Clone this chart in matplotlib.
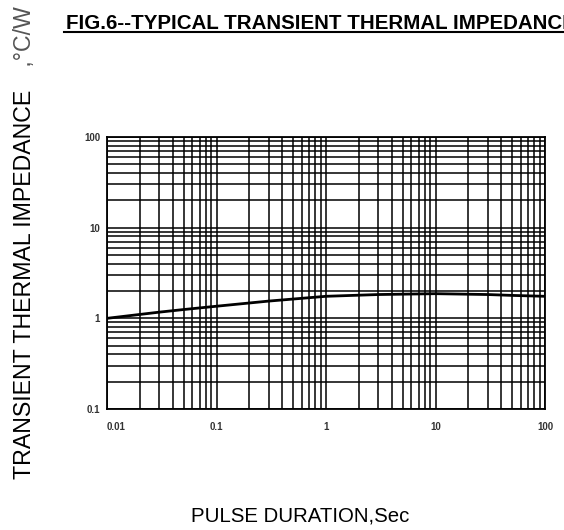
import matplotlib
matplotlib.use('Agg')
import matplotlib.pyplot as plt
from matplotlib.ticker import LogLocator, NullFormatter, FixedLocator

# valeurs
pulse = [0.01, 0.03, 0.05, 0.1, 0.3, 1, 3, 10, 30, 50, 100]
zth = [1.0, 1.17, 1.25, 1.36, 1.55, 1.75, 1.83, 1.87, 1.83, 1.79, 1.75]

xticks = [0.01, 0.1, 1, 10, 100]
xlabels = ['0.01', '0.1', '1', '10', '100']
yticks = [0.1, 1, 10, 100]
ylabels = ['0.1', '1', '10', '100']

plt.rcParams['font.family'] = ['Liberation Sans', 'DejaVu Sans']

fig = plt.figure(figsize=(5.64, 5.30), dpi=100)
ax = fig.add_axes([107 / 564, 1 - 409 / 530, 438 / 564, 272 / 530])

ax.set_xscale('log')
ax.set_yscale('log')
ax.set_xlim(0.01, 100)
ax.set_ylim(0.1, 100)

ax.xaxis.set_major_locator(FixedLocator(xticks))
ax.yaxis.set_major_locator(FixedLocator(yticks))
ax.set_xticklabels(xlabels)
ax.set_yticklabels(ylabels)
ax.xaxis.set_minor_locator(LogLocator(base=10, subs=range(2, 10)))
ax.yaxis.set_minor_locator(LogLocator(base=10, subs=range(2, 10)))
ax.xaxis.set_minor_formatter(NullFormatter())
ax.yaxis.set_minor_formatter(NullFormatter())

ax.grid(True, which='both', color='black', linewidth=1.1)
ax.tick_params(which='both', length=0, labelsize=7, colors='#333333')
ax.tick_params(axis='x', pad=9)
ax.tick_params(axis='y', pad=5)
for lab in ax.get_xticklabels() + ax.get_yticklabels():
    lab.set_fontweight('bold')
# le premier libellé démarre au bord de l'axe
ax.get_xticklabels()[0].set_horizontalalignment('left')
for s in ax.spines.values():
    s.set_linewidth(1.3)
    s.set_color('black')

ax.plot(pulse, zth, color='black', linewidth=2.0, zorder=5)

# titre souligné (coupé au bord droit comme sur l'original)
fig.text(66 / 564, 1 - 29 / 530, 'FIG.6--TYPICAL TRANSIENT THERMAL IMPEDANCE',
         fontsize=14.8, fontweight='bold', ha='left', va='baseline')
fig.add_artist(plt.Line2D([64 / 564, 1.0], [1 - 32 / 530, 1 - 32 / 530],
                          color='black', linewidth=1.5))

fig.text(300 / 564, 1 - 516 / 530, 'PULSE DURATION,Sec', fontsize=14.7,
         ha='center', va='center')

fig.text(25 / 564, 1 - 284 / 530, 'TRANSIENT THERMAL IMPEDANCE', fontsize=16.7,
         rotation=90, ha='center', va='center')
fig.text(25 / 564, 1 - 40 / 530, ' ,\u00b0C/W', fontsize=16.7, color='#555555',
         rotation=90, ha='center', va='center')

fig.savefig('out.png', dpi=100)
